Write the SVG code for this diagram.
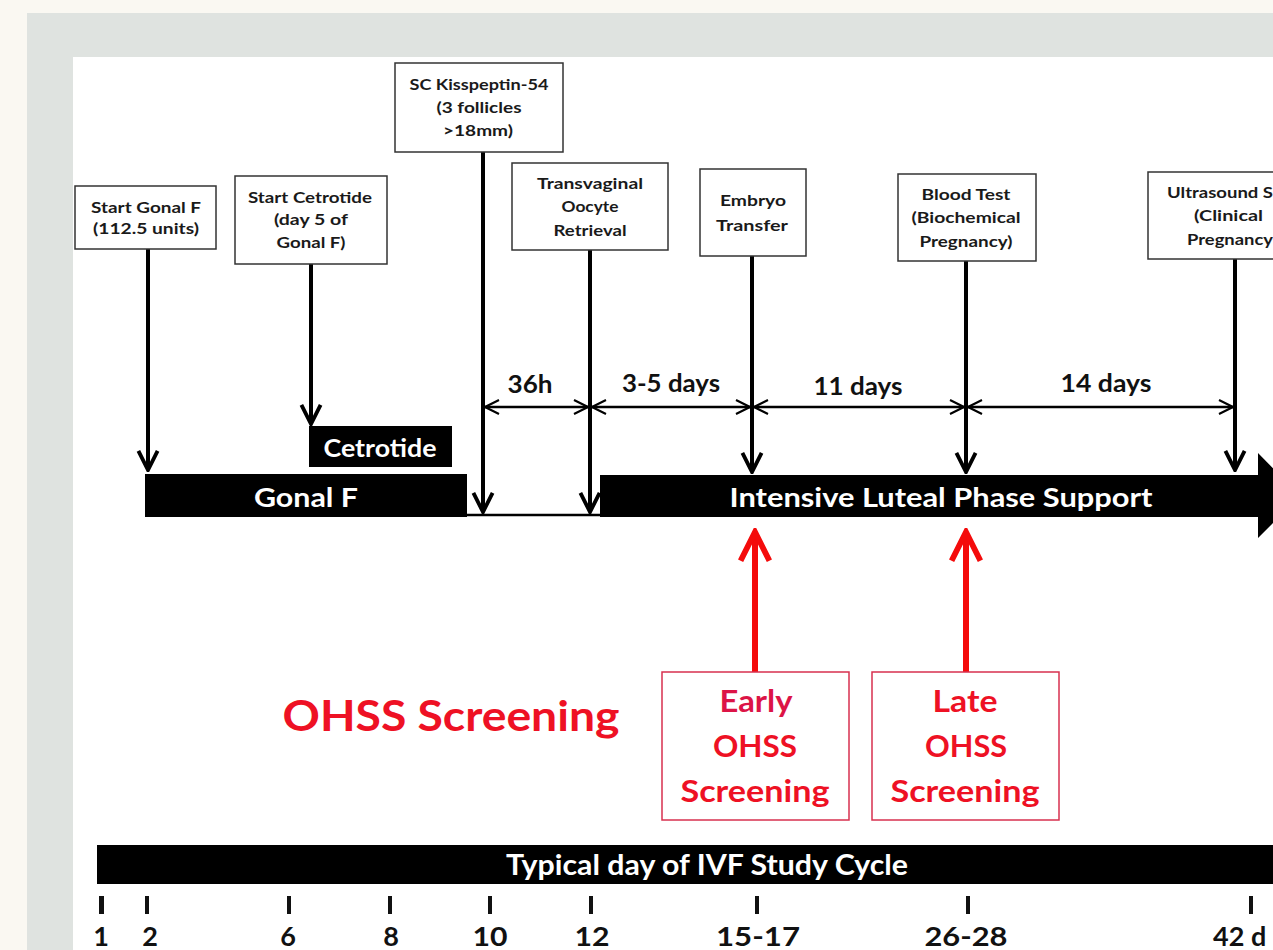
<svg xmlns="http://www.w3.org/2000/svg" width="1273" height="950" viewBox="0 0 1273 950">
<defs>
<style>
text{font-family:Lato,"Open Sans","Liberation Sans",sans-serif;font-weight:bold;text-anchor:middle}
.box{fill:#fff;stroke:#333;stroke-width:1.5}
.bt{font-size:15px;fill:#1a1a1a}
.wt{fill:#fff}
.dim{font-size:25px;fill:#111}
.red{fill:#ee1124}
.rbox{fill:#fff;stroke:#d7314f;stroke-width:1.5}
.vl{stroke:#000;stroke-width:4;fill:none}
.hl{stroke:#000;stroke-width:2.5;fill:none}
.rl{stroke:#f40b0b;stroke-width:6;fill:none}
.tick{font-size:27px;fill:#111}
</style>
<marker id="ah" viewBox="0 0 10 10" refX="9" refY="5" markerWidth="6" markerHeight="6" orient="auto-start-reverse" markerUnits="strokeWidth">
<path d="M1,1 L9,5 L1,9" fill="none" stroke="#000" stroke-width="1.6"/>
</marker>
<marker id="dh" viewBox="0 0 10 10" refX="9" refY="5" markerWidth="7" markerHeight="7" orient="auto-start-reverse" markerUnits="strokeWidth">
<path d="M1,1 L9,5 L1,9" fill="none" stroke="#000" stroke-width="1.2"/>
</marker>
<marker id="rh" viewBox="0 0 10 10" refX="9" refY="5" markerWidth="6" markerHeight="6" orient="auto" markerUnits="strokeWidth">
<path d="M1,1 L9,5 L1,9" fill="none" stroke="#f40b0b" stroke-width="1.6"/>
</marker>
</defs>
<rect x="0" y="0" width="1273" height="950" fill="#faf8f2"/>
<rect x="27" y="13" width="1246" height="937" fill="#dfe3e0"/>
<rect x="73" y="57" width="1200" height="893" fill="#fff"/>

<g id="connectors">
<line class="vl" x1="148" y1="249" x2="148" y2="470" marker-end="url(#ah)"/>
<line class="vl" x1="311" y1="264" x2="311" y2="424" marker-end="url(#ah)"/>
<line class="vl" x1="483" y1="152" x2="483" y2="512" marker-end="url(#ah)"/>
<line class="vl" x1="590" y1="250" x2="590" y2="512" marker-end="url(#ah)"/>
<line class="vl" x1="752" y1="256" x2="752" y2="472" marker-end="url(#ah)"/>
<line class="vl" x1="966" y1="261" x2="966" y2="472" marker-end="url(#ah)"/>
<line class="vl" x1="1235" y1="259" x2="1235" y2="470" marker-end="url(#ah)"/>
<line x1="467" y1="515" x2="602" y2="515" stroke="#000" stroke-width="2.5"/>
<line class="hl" x1="485" y1="407" x2="588" y2="407" marker-start="url(#dh)" marker-end="url(#dh)"/>
<line class="hl" x1="592" y1="407" x2="750" y2="407" marker-start="url(#dh)" marker-end="url(#dh)"/>
<line class="hl" x1="754" y1="407" x2="964" y2="407" marker-start="url(#dh)" marker-end="url(#dh)"/>
<line class="hl" x1="968" y1="407" x2="1233" y2="407" marker-start="url(#dh)" marker-end="url(#dh)"/>
<line class="rl" x1="755" y1="672" x2="755" y2="532" marker-end="url(#rh)"/>
<line class="rl" x1="966" y1="672" x2="966" y2="532" marker-end="url(#rh)"/>
</g>

<g id="dim-labels">
<text class="dim" x="530" y="393" textLength="45" lengthAdjust="spacingAndGlyphs">36h</text>
<text class="dim" x="671" y="392" textLength="98" lengthAdjust="spacingAndGlyphs">3-5 days</text>
<text class="dim" x="858" y="395" textLength="89" lengthAdjust="spacingAndGlyphs">11 days</text>
<text class="dim" x="1106" y="392" textLength="91" lengthAdjust="spacingAndGlyphs">14 days</text>
</g>

<g id="n-start-gonal">
<rect class="box" x="75" y="186" width="141" height="63"/>
<text class="bt" x="146" y="213" textLength="110" lengthAdjust="spacingAndGlyphs">Start Gonal F</text>
<text class="bt" x="146" y="234" textLength="106" lengthAdjust="spacingAndGlyphs">(112.5 units)</text>
</g>
<g id="n-start-cetrotide">
<rect class="box" x="235" y="176" width="152" height="88"/>
<text class="bt" x="310" y="203" textLength="124" lengthAdjust="spacingAndGlyphs">Start Cetrotide</text>
<text class="bt" x="311" y="225" textLength="74" lengthAdjust="spacingAndGlyphs">(day 5 of</text>
<text class="bt" x="311" y="248" textLength="69" lengthAdjust="spacingAndGlyphs">Gonal F)</text>
</g>
<g id="n-kisspeptin">
<rect class="box" x="395" y="63" width="168" height="89"/>
<text class="bt" x="479" y="90" textLength="139" lengthAdjust="spacingAndGlyphs">SC Kisspeptin-54</text>
<text class="bt" x="479" y="113" textLength="85" lengthAdjust="spacingAndGlyphs">(3 follicles</text>
<text class="bt" x="478" y="136" textLength="70" lengthAdjust="spacingAndGlyphs">&gt;18mm)</text>
</g>
<g id="n-retrieval">
<rect class="box" x="512" y="163" width="156" height="87"/>
<text class="bt" x="590" y="189" textLength="106" lengthAdjust="spacingAndGlyphs">Transvaginal</text>
<text class="bt" x="590" y="212" textLength="57" lengthAdjust="spacingAndGlyphs">Oocyte</text>
<text class="bt" x="590" y="236" textLength="73" lengthAdjust="spacingAndGlyphs">Retrieval</text>
</g>
<g id="n-embryo">
<rect class="box" x="700" y="169" width="106" height="87"/>
<text class="bt" x="753" y="206" textLength="66" lengthAdjust="spacingAndGlyphs">Embryo</text>
<text class="bt" x="752" y="231" textLength="72" lengthAdjust="spacingAndGlyphs">Transfer</text>
</g>
<g id="n-blood">
<rect class="box" x="898" y="174" width="138" height="87"/>
<text class="bt" x="966" y="200" textLength="89" lengthAdjust="spacingAndGlyphs">Blood Test</text>
<text class="bt" x="966" y="223" textLength="109" lengthAdjust="spacingAndGlyphs">(Biochemical</text>
<text class="bt" x="966" y="247" textLength="93" lengthAdjust="spacingAndGlyphs">Pregnancy)</text>
</g>
<g id="n-ultrasound">
<rect class="box" x="1148" y="172" width="140" height="87"/>
<text class="bt" x="1167" y="198" style="text-anchor:start" textLength="106" lengthAdjust="spacingAndGlyphs">Ultrasound S</text>
<text class="bt" x="1194" y="221" style="text-anchor:start" textLength="69" lengthAdjust="spacingAndGlyphs">(Clinical</text>
<text class="bt" x="1187" y="245" style="text-anchor:start" textLength="86" lengthAdjust="spacingAndGlyphs">Pregnancy</text>
</g>

<g id="n-cetrotide-bar">
<rect x="309" y="426" width="143" height="41" fill="#000"/>
<text class="wt" x="380" y="457" font-size="24" textLength="113" lengthAdjust="spacingAndGlyphs">Cetrotide</text>
</g>
<g id="n-gonal-bar">
<rect x="145" y="474" width="322" height="43" fill="#000"/>
<text class="wt" x="306" y="507" font-size="26" textLength="104" lengthAdjust="spacingAndGlyphs">Gonal F</text>
</g>
<g id="n-luteal-bar">
<path d="M600,475 H1258 V453 L1300,496 L1258,538 V517 H600 Z" fill="#000"/>
<text class="wt" x="941" y="507" font-size="27" textLength="423" lengthAdjust="spacingAndGlyphs">Intensive Luteal Phase Support</text>
</g>

<g id="n-ohss-title">
<text class="red" x="451" y="731" font-size="42" textLength="337" lengthAdjust="spacingAndGlyphs">OHSS Screening</text>
</g>
<g id="n-early">
<rect class="rbox" x="662" y="672" width="187" height="148"/>
<text x="756" y="712" font-size="30" fill="#dc1446" textLength="73" lengthAdjust="spacingAndGlyphs">Early</text>
<text class="red" x="755" y="757" font-size="30" textLength="84" lengthAdjust="spacingAndGlyphs">OHSS</text>
<text class="red" x="755" y="802" font-size="30" textLength="149" lengthAdjust="spacingAndGlyphs">Screening</text>
</g>
<g id="n-late">
<rect class="rbox" x="872" y="672" width="187" height="148"/>
<text class="red" x="965" y="712" font-size="30" textLength="65" lengthAdjust="spacingAndGlyphs">Late</text>
<text class="red" x="966" y="757" font-size="30" textLength="82" lengthAdjust="spacingAndGlyphs">OHSS</text>
<text class="red" x="965" y="802" font-size="30" textLength="149" lengthAdjust="spacingAndGlyphs">Screening</text>
</g>

<g id="n-axis">
<rect x="97" y="845" width="1176" height="39" fill="#000"/>
<text class="wt" x="707" y="875" font-size="28" textLength="402" lengthAdjust="spacingAndGlyphs">Typical day of IVF Study Cycle</text>
<g fill="#111">
<rect x="99" y="896" width="5" height="18"/>
<rect x="145" y="896" width="4" height="18"/>
<rect x="287" y="896" width="4" height="18"/>
<rect x="388" y="896" width="4" height="18"/>
<rect x="488" y="896" width="4" height="18"/>
<rect x="589" y="896" width="4" height="18"/>
<rect x="755" y="896" width="4" height="18"/>
<rect x="966" y="896" width="4" height="18"/>
<rect x="1249" y="896" width="4" height="18"/>
</g>
<text class="tick" x="101" y="946">1</text>
<text class="tick" x="150" y="946">2</text>
<text class="tick" x="288" y="946">6</text>
<text class="tick" x="391" y="946">8</text>
<text class="tick" x="490" y="946" textLength="35" lengthAdjust="spacingAndGlyphs">10</text>
<text class="tick" x="592" y="946" textLength="35" lengthAdjust="spacingAndGlyphs">12</text>
<text class="tick" x="758" y="946" textLength="84" lengthAdjust="spacingAndGlyphs">15-17</text>
<text class="tick" x="966" y="946" textLength="83" lengthAdjust="spacingAndGlyphs">26-28</text>
<text class="tick" x="1213" y="946" style="text-anchor:start">42 d</text>
</g>
</svg>
